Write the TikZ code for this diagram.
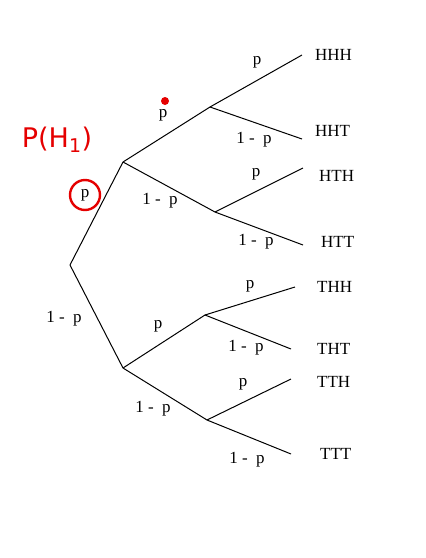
\documentclass[tikz,border=0pt]{standalone}
\usepackage{fontspec}
\setmainfont{Liberation Serif}
\newfontfamily\handfont{DejaVu Sans}
\begin{document}
\begin{tikzpicture}[x=1pt,y=-1pt,
  edge/.style={line width=1pt,black},
  lab/.style={font=\fontsize{17}{20}\selectfont,inner sep=0pt},
  leaf/.style={font=\fontsize{17}{20}\selectfont,inner sep=0pt,anchor=west},
  redmark/.style={red!90!black,line width=2.4pt}]
\useasboundingbox (0,0) rectangle (426,558);
% branching points
\coordinate (root) at (70,265);
\coordinate (H) at (123,162);
\coordinate (T) at (123,368);
\coordinate (HH) at (210,107);
\coordinate (HT) at (215,212);
\coordinate (TH) at (205,315);
\coordinate (TT) at (207,420);
% leaf ends
\coordinate (eHHH) at (302,55);
\coordinate (eHHT) at (302,139);
\coordinate (eHTH) at (303,168);
\coordinate (eHTT) at (303,245);
\coordinate (eTHH) at (295,287);
\coordinate (eTHT) at (291,349);
\coordinate (eTTH) at (291,379);
\coordinate (eTTT) at (291,454);
% edges
\draw[edge] (root) -- (H);
\draw[edge] (root) -- (T);
\draw[edge] (H) -- (HH);
\draw[edge] (H) -- (HT);
\draw[edge] (T) -- (TH);
\draw[edge] (T) -- (TT);
\draw[edge] (HH) -- (eHHH);
\draw[edge] (HH) -- (eHHT);
\draw[edge] (HT) -- (eHTH);
\draw[edge] (HT) -- (eHTT);
\draw[edge] (TH) -- (eTHH);
\draw[edge] (TH) -- (eTHT);
\draw[edge] (TT) -- (eTTH);
\draw[edge] (TT) -- (eTTT);
% leaf labels
\node[leaf] (lHHH) at (315,55) {HHH};
\node[leaf] (lHHT) at (315,131) {HHT};
\node[leaf] (lHTH) at (319,176) {HTH};
\node[leaf] (lHTT) at (321,242) {HTT};
\node[leaf] (lTHH) at (317,287) {THH};
\node[leaf] (lTHT) at (317,349) {THT};
\node[leaf] (lTTH) at (317,382) {TTH};
\node[leaf] (lTTT) at (320,454) {TTT};
% edge labels
\node[lab] (p1) at (163,115) {p};
\node[lab] (q1) at (160,201) {1 -\ \ p};
\node[lab] (p0) at (85,195) {p};
\node[lab] (q0) at (64,319) {1 -\ \ p};
\node[lab] (p2) at (158,326) {p};
\node[lab] (q2) at (153,409) {1 -\ \ p};
\node[lab] (pHHH) at (257,62) {p};
\node[lab] (qHHT) at (254,140) {1 -\ \ p};
\node[lab] (pHTH) at (256,174) {p};
\node[lab] (qHTT) at (256,242) {1 -\ \ p};
\node[lab] (pTHH) at (250,286) {p};
\node[lab] (qTHT) at (246,348) {1 -\ \ p};
\node[lab] (pTTH) at (243,384) {p};
\node[lab] (qTTT) at (247,460) {1 -\ \ p};
% red annotations
\node[text=red!90!black,font=\handfont\fontsize{27}{30}\selectfont,inner sep=0pt] (ann) at (57,140) {P(H\textsubscript{1})};
\draw[redmark] (p0) ellipse [x radius=15, y radius=15];
\fill[red!90!black] (165,101) circle [radius=4];
\end{tikzpicture}
\end{document}
